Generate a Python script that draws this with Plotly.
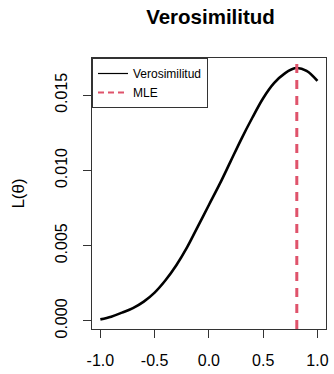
import plotly.graph_objects as go

# Values
theta = [-1.0, -0.9, -0.8, -0.7, -0.6, -0.5, -0.4, -0.3, -0.2, -0.1, 0.0,
         0.1, 0.2, 0.3, 0.4, 0.5, 0.6, 0.7, 0.8, 0.9, 1.0]
likelihood = [0.0001, 0.00028, 0.00055, 0.00085, 0.00128, 0.00188, 0.0027,
              0.0037, 0.0049, 0.0063, 0.0077, 0.0091, 0.0106, 0.0121,
              0.0135, 0.0148, 0.0158, 0.01645, 0.0168, 0.01662, 0.01595]
mle = 0.81
x_ticks = [-1.0, -0.5, 0.0, 0.5, 1.0]
x_tick_labels = ["-1.0", "-0.5", "0.0", "0.5", "1.0"]
y_ticks = [0.0, 0.005, 0.010, 0.015]
y_tick_labels = ["0.000", "0.005", "0.010", "0.015"]
x_range = [-1.077, 1.079]
y_range = [-0.00054, 0.01747]

RED = "#DF536B"
AXIS = "#333333"
FONT = "Liberation Sans, Arial, sans-serif"

fig = go.Figure()

fig.add_trace(go.Scatter(x=theta, y=likelihood, mode="lines",
                         line=dict(color="black", width=2.6, shape="spline",
                                   smoothing=1.0),
                         showlegend=False, hoverinfo="skip"))
fig.add_trace(go.Scatter(x=[mle, mle], y=y_range, mode="lines",
                         line=dict(color=RED, width=3, dash="9px,7px"),
                         showlegend=False, hoverinfo="skip"))
# legend entries (thin lines as in the reference legend)
fig.add_trace(go.Scatter(x=[None], y=[None], mode="lines", name="Verosimilitud",
                         line=dict(color="black", width=1.2)))
fig.add_trace(go.Scatter(x=[None], y=[None], mode="lines", name="MLE",
                         line=dict(color=RED, width=2, dash="6px,4px")))

fig.update_layout(
    width=334, height=374,
    margin=dict(l=92, r=5, t=58, b=40),
    paper_bgcolor="white", plot_bgcolor="white",
    font=dict(family=FONT, color="black", size=16),
    title=dict(text="<b>Verosimilitud</b>", x=(92 + 329) / 2 / 334, xanchor="center",
               y=1 - 17 / 374, yanchor="middle",
               font=dict(size=20.5, family=FONT, color="black")),
    showlegend=True,
    legend=dict(x=0, y=1, xanchor="left", yanchor="top",
                bordercolor=AXIS, borderwidth=1, bgcolor="white",
                font=dict(size=12, family=FONT, color="black"),
                tracegroupgap=0, itemwidth=30),
)
fig.update_xaxes(range=x_range, tickvals=x_ticks, ticktext=x_tick_labels,
                 showgrid=False, zeroline=False, showline=True, mirror=True,
                 linecolor=AXIS, linewidth=1, ticks="outside", ticklen=8,
                 tickcolor=AXIS, tickfont=dict(size=16),
                 ticklabelstandoff=9)
fig.update_yaxes(range=y_range, tickvals=y_ticks, ticktext=y_tick_labels,
                 showgrid=False, zeroline=False, showline=True, mirror=True,
                 linecolor=AXIS, linewidth=1, ticks="outside", ticklen=8,
                 tickcolor=AXIS, tickfont=dict(size=16), tickangle=-90,
                 ticklabelstandoff=10,
                 title=dict(text="L(θ)", font=dict(size=17), standoff=23))

fig.write_html("out.html", config={"displayModeBar": False, "staticPlot": True})

# remove the browser's default page margin so the figure sits at (0, 0)
with open("out.html", encoding="utf-8") as f:
    html = f.read()
html = html.replace("<head>", "<head><style>html,body{margin:0;padding:0;overflow:hidden;}</style>", 1)
with open("out.html", "w", encoding="utf-8") as f:
    f.write(html)
